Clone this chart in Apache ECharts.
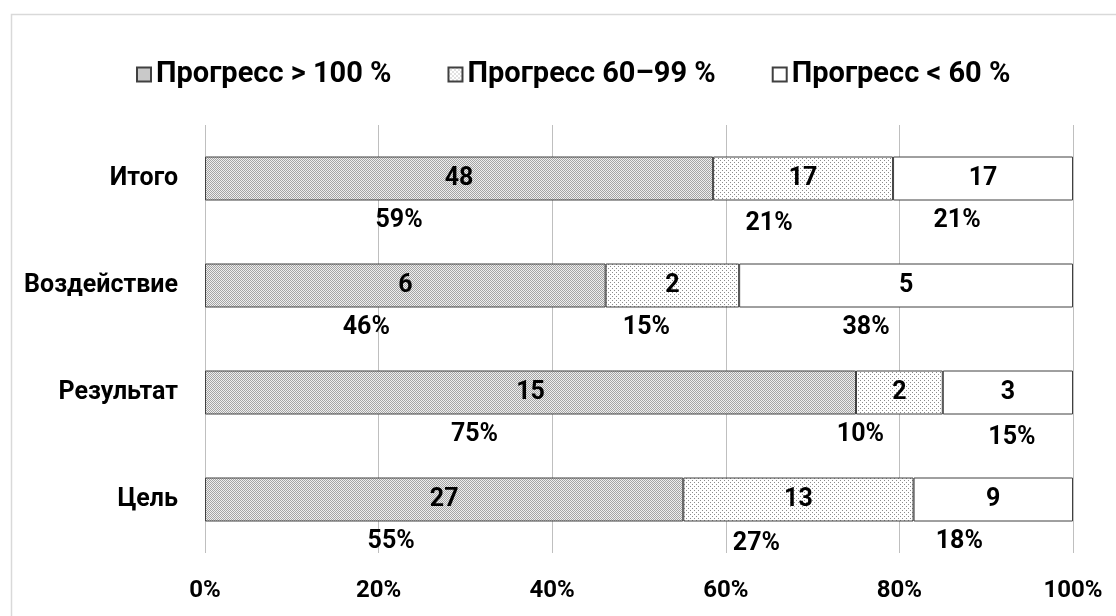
<!DOCTYPE html>
<html>
<head>
<meta charset="utf-8">
<script src="https://cdn.jsdelivr.net/npm/echarts@6/dist/echarts.min.js"></script>
<style>
html,body{margin:0;padding:0;background:#fff;}
#chart{width:1116px;height:616px;}
</style>
</head>
<body>
<div id="chart"></div>
<script>
// ---- data ----
const categories = ['Итого', 'Воздействие', 'Результат', 'Цель'];
const seriesNames = ['Прогресс > 100 %', 'Прогресс 60–99 %', 'Прогресс < 60 %'];
const over100 = [48, 6, 15, 27];
const mid60to99 = [17, 2, 2, 13];
const under60 = [17, 5, 3, 9];
const xTicks = [0, 20, 40, 60, 80, 100];

// ---- layout nudges for the percent labels (style only) ----
const pctLabelNudge = [
  [[-60, 0], [-34, 3], [-26, 0]],
  [[-39, 0], [-26, 0], [-40, 0]],
  [[-56, 0], [-39, 0], [4, 3]],
  [[-53, 0], [-42, 2], [-34, 0]]
];

const FONT = 'Roboto, "Noto Sans", sans-serif';

function makePattern(size, bg, dots, dotColor) {
  const c = document.createElement('canvas');
  c.width = size; c.height = size;
  const ctx = c.getContext('2d');
  ctx.fillStyle = bg; ctx.fillRect(0, 0, size, size);
  ctx.fillStyle = dotColor;
  dots.forEach(d => ctx.fillRect(d[0], d[1], 1, 1));
  return c;
}
const pat1 = { image: makePattern(2, '#eeeeee', [[0, 0], [1, 1]], '#a4a4a4'), repeat: 'repeat' };
const pat2 = { image: makePattern(4, '#ffffff', [[0, 0], [2, 2]], '#8c8c8c'), repeat: 'repeat' };
const fills = [pat1, pat2, '#ffffff'];

const raw = [over100, mid60to99, under60];
const totals = categories.map((c, i) => raw.reduce((s, arr) => s + arr[i], 0));
const pct = raw.map(arr => arr.map((v, i) => v / totals[i] * 100));

const series = [];
raw.forEach((arr, k) => {
  series.push({
    name: seriesNames[k],
    type: 'bar',
    stack: 'main',
    yAxisIndex: 0,
    barWidth: 44,
    data: pct[k].map((p, i) => ({ value: p, count: arr[i] })),
    itemStyle: { color: fills[k], borderColor: '#404040', borderWidth: 1 },
    emphasis: { disabled: true },
    label: {
      show: true, position: 'inside',
      formatter: p => p.data.count,
      color: '#000', fontFamily: FONT, fontWeight: 'bold', fontSize: 25
    }
  });
});
raw.forEach((arr, k) => {
  series.push({
    name: 'pct' + k,
    type: 'bar',
    stack: 'pct',
    yAxisIndex: 1,
    barWidth: 44,
    silent: true,
    data: pct[k].map((p, i) => ({
      value: p,
      label: { offset: pctLabelNudge[i][k] }
    })),
    itemStyle: { color: 'rgba(0,0,0,0)' },
    emphasis: { disabled: true },
    label: {
      show: true, position: 'bottom', distance: 8,
      formatter: p => Math.round(p.value) + '%',
      color: '#000', fontFamily: FONT, fontWeight: 'bold', fontSize: 25
    }
  });
});

const chart = echarts.init(document.getElementById('chart'), null, { renderer: 'canvas' });
chart.setOption({
  animation: false,
  backgroundColor: '#fff',
  graphic: [{
    type: 'rect', left: 9, top: 12, silent: true,
    shape: { width: 1200, height: 700 },
    style: { fill: 'none', stroke: '#d9d9d9', lineWidth: 1.5 }
  }],
  legend: {
    data: seriesNames,
    left: 131, top: 55,
    itemWidth: 14, itemHeight: 14, itemGap: 56,
    icon: 'rect',
    textStyle: { fontFamily: FONT, fontWeight: 'bold', fontSize: 29, color: '#000' },
    selectedMode: false
  },
  grid: { left: 205, right: 43, top: 125, bottom: 63 },
  xAxis: {
    type: 'value', min: 0, max: 100, interval: 20,
    axisLine: { show: false }, axisTick: { show: false },
    splitLine: { show: true, lineStyle: { color: '#bfbfbf', width: 1 } },
    axisLabel: {
      formatter: v => xTicks.indexOf(v) >= 0 ? v + '%' : '',
      margin: 26, color: '#000', fontFamily: FONT, fontWeight: 'bold', fontSize: 24
    }
  },
  yAxis: [{
    type: 'category', data: categories, inverse: true,
    axisLine: { show: false }, axisTick: { show: false },
    axisLabel: { margin: 27, color: '#000', fontFamily: FONT, fontWeight: 'bold', fontSize: 25 }
  }, {
    type: 'category', data: categories, inverse: true, show: false
  }],
  series: series
});
</script>
</body>
</html>
